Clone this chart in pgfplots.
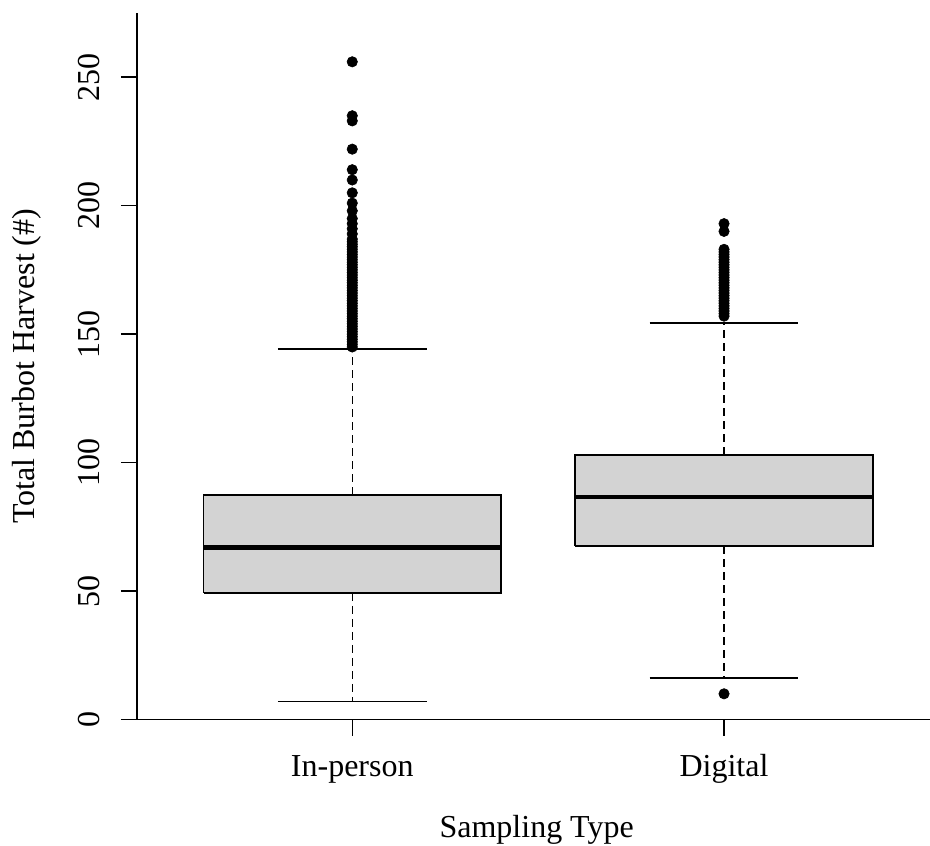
\documentclass[border=0pt]{standalone}
\usepackage{fontspec}
\setmainfont{Liberation Serif}
\usepackage{pgfplots}
\pgfplotsset{compat=1.18}
\definecolor{boxgray}{RGB}{211,211,211}
\newcommand{\labfont}{\fontsize{16bp}{19bp}\selectfont}
\begin{document}
\begin{tikzpicture}
\begin{axis}[
  scale only axis,
  width=396.5bp, height=353.25bp,
  xmin=0.421, xmax=2.554,
  ymin=0, ymax=275,
  axis lines=left,
  axis line style={-, line width=0.75bp, black},
  xtick={1,2},
  xticklabels={In-person, Digital},
  ytick={0,50,100,150,200,250},
  tick align=outside,
  major tick length=8bp,
  tick style={black, line width=0.75bp},
  /pgf/number format/assume math mode=true,
  tick label style={font=\labfont},
  xticklabel style={anchor=base, inner sep=0pt, yshift=-20.6bp},
  yticklabel style={rotate=90, anchor=base, inner sep=0pt, yshift=10.5bp},
  every axis x label/.style={at={(rel axis cs:0.504,0)}, yshift=-58.75bp, anchor=base, inner sep=0pt, font=\labfont},
  every axis y label/.style={at={(rel axis cs:0,0.5)}, xshift=-51bp, rotate=90, anchor=base, inner sep=0pt, font=\labfont},
  xlabel={Sampling Type},
  ylabel={Total Burbot Harvest (\#)},
  clip=false,
]
% --- In-person ---
\addplot[fill=boxgray, draw=black, line width=0.9bp, line join=miter] coordinates {(0.6,49.3) (1.4,49.3) (1.4,87.5) (0.6,87.5) (0.6,49.3)};
\addplot[black, line width=2.4bp] coordinates {(0.6,67.1) (1.4,67.1)};
\addplot[black, line width=0.75bp, dash pattern=on 4bp off 2.5bp] coordinates {(1,87.5) (1,144.2)};
\addplot[black, line width=0.75bp, dash pattern=on 4bp off 2.5bp] coordinates {(1,49.3) (1,7)};
\addplot[black, line width=0.9bp] coordinates {(0.8,144.2) (1.2,144.2)};
\addplot[black, line width=0.9bp] coordinates {(0.8,7) (1.2,7)};
% --- Digital ---
\addplot[fill=boxgray, draw=black, line width=0.9bp, line join=miter] coordinates {(1.6,67.5) (2.4,67.5) (2.4,103.1) (1.6,103.1) (1.6,67.5)};
\addplot[black, line width=2.4bp] coordinates {(1.6,86.6) (2.4,86.6)};
\addplot[black, line width=0.75bp, dash pattern=on 4bp off 2.5bp] coordinates {(2,103.1) (2,154.4)};
\addplot[black, line width=0.75bp, dash pattern=on 4bp off 2.5bp] coordinates {(2,67.5) (2,16.3)};
\addplot[black, line width=0.9bp] coordinates {(1.8,154.4) (2.2,154.4)};
\addplot[black, line width=0.9bp] coordinates {(1.8,16.3) (2.2,16.3)};
% --- outliers ---
\addplot[only marks, mark=*, mark size=2.6bp, mark options={solid, fill=black, draw=black, line width=0.3bp}]
  table[row sep=\\] {x y\\
  1 145\\ 1 146\\ 1 147\\ 1 148\\ 1 149\\ 1 150\\ 1 151\\ 1 152\\ 1 153\\ 1 154\\ 1 155\\ 1 156\\ 1 157\\ 1 158\\ 1 159\\ 1 160\\ 1 161\\ 1 162\\ 1 163\\ 1 164\\ 1 165\\ 1 166\\ 1 167\\ 1 168\\ 1 169\\ 1 170\\ 1 171\\ 1 172\\ 1 173\\ 1 174\\ 1 175\\ 1 176\\ 1 177\\ 1 178\\ 1 179\\ 1 180\\ 1 181\\ 1 182\\ 1 183\\ 1 184\\ 1 185\\ 1 186\\ 1 187\\ 1 189\\ 1 191\\ 1 193\\ 1 195\\ 1 198\\ 1 201\\ 1 205\\ 1 210\\ 1 214\\ 1 222\\ 1 233\\ 1 235\\ 1 256\\
  };
\addplot[only marks, mark=*, mark size=2.6bp, mark options={solid, fill=black, draw=black, line width=0.3bp}]
  table[row sep=\\] {x y\\
  2 10\\ 2 157\\ 2 158\\ 2 159\\ 2 160\\ 2 161\\ 2 162\\ 2 163\\ 2 164\\ 2 165\\ 2 166\\ 2 167\\ 2 168\\ 2 169\\ 2 170\\ 2 171\\ 2 172\\ 2 173\\ 2 174\\ 2 175\\ 2 176\\ 2 177\\ 2 178\\ 2 179\\ 2 180\\ 2 181\\ 2 182\\ 2 183\\ 2 190\\ 2 193\\
  };
\end{axis}
\pgfresetboundingbox
\path (current axis.south west) ++(-68.5bp,-63.25bp) rectangle ++(465bp,423bp);
\end{tikzpicture}
\end{document}
